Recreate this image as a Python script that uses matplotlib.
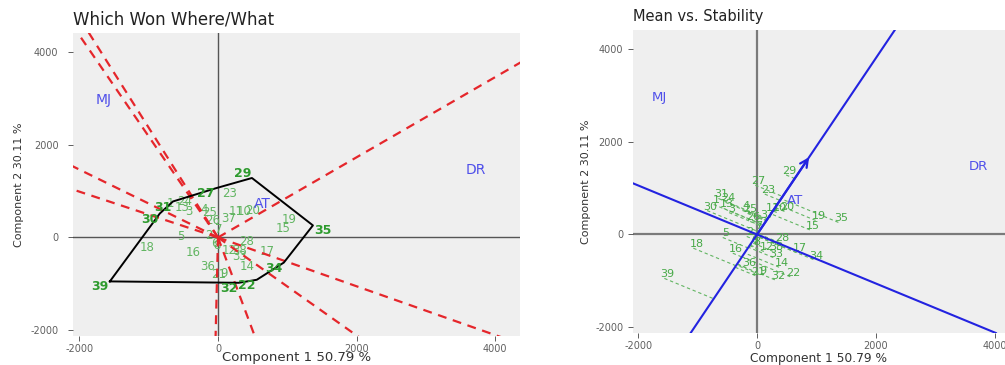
import numpy as np
import matplotlib
matplotlib.use('Agg')
import matplotlib.pyplot as plt

plt.rcParams['font.family'] = ['DejaVu Sans']
plt.rcParams['axes.unicode_minus'] = False

# genotype scores (component 1, component 2)
geno = [str(i) for i in range(1, 40)]
comp1 = [-730, -173, -470, -245, -577, -87, -29, -58, 43, 332,
         216, 115, -560, 372, 890, -408, 664, -1072, 986, 462,
         -29, 560, 130, -530, -159, -115, -30, 375, 490, -840,
         -650, 300, 274, 950, 1370, -188, 115, 274, -1560]
comp2 = [645, -43, 470, 517, -65, -216, 86, -259, -862, 474,
         474, -366, 560, -705, 99, -403, -388, -295, 302, 496,
         -884, -910, 869, 690, 453, 280, 1060, -172, 1280, 515,
         775, -975, -496, -540, 260, -711, 323, -366, -945]

# environment scores
env = ['MJ', 'AT', 'DR']
env1 = [-1650, 640, 3720]
env2 = [2950, 730, 1460]

g = np.column_stack([comp1, comp2]).astype(float)
e = np.column_stack([env1, env2]).astype(float)

green = '#62b562'
dgreen = '#2e9b2e'
eblue = '#5050ea'
lblue = '#2323e0'
ylim = (-2120, 4400)


def convex_hull(pts):
    order = sorted(range(len(pts)), key=lambda i: (pts[i][0], pts[i][1]))

    def cross(o, a, b):
        return (pts[a][0] - pts[o][0]) * (pts[b][1] - pts[o][1]) - (pts[a][1] - pts[o][1]) * (pts[b][0] - pts[o][0])
    lower = []
    for i in order:
        while len(lower) >= 2 and cross(lower[-2], lower[-1], i) <= 0:
            lower.pop()
        lower.append(i)
    upper = []
    for i in reversed(order):
        while len(upper) >= 2 and cross(upper[-2], upper[-1], i) <= 0:
            upper.pop()
        upper.append(i)
    return lower[:-1] + upper[:-1]


def style_axes(ax, xl, xsize, ypad):
    ax.set_facecolor('#efefef')
    ax.set_xlim(*xl)
    ax.set_ylim(*ylim)
    for s in ax.spines.values():
        s.set_visible(False)
    ax.set_xticks([-2000, 0, 2000, 4000])
    ax.set_yticks([-2000, 0, 2000, 4000])
    ax.tick_params(labelsize=7, labelcolor='#606060', color='#444444', length=3.5, width=0.6)
    ax.tick_params(axis='x', pad=2)
    ax.tick_params(axis='y', pad=ypad)
    ax.set_xlabel('Component 1 50.79 %', fontsize=xsize, color='#333333')
    ax.set_ylabel('Component 2 30.11 %', fontsize=8, color='#333333')


fig = plt.figure(figsize=(10.05, 3.65), dpi=100)

# ---- Which won where/what
ax1 = fig.add_axes([73 / 1005, 29 / 365, 447 / 1005, 303 / 365])
style_axes(ax1, (-2092, 4358), 9.5, 7)
ax1.xaxis.set_label_coords(0.5, -0.048)
ax1.yaxis.set_label_coords(-0.11, 0.5)
ax1.axhline(0, color='#555555', lw=1, zorder=1)
ax1.axvline(0, color='#555555', lw=1, zorder=1)

hull = convex_hull(g)
for k in range(len(hull)):
    a = g[hull[k]]
    b = g[hull[(k + 1) % len(hull)]]
    d = b - a
    foot = a - (a @ d) / (d @ d) * d
    u = foot / np.linalg.norm(foot)
    ax1.plot([0, u[0] * 20000], [0, u[1] * 20000], color='#e5262b', lw=1.6,
             ls=(0, (4, 3)), zorder=4)

hx = [g[i][0] for i in hull] + [g[hull[0]][0]]
hy = [g[i][1] for i in hull] + [g[hull[0]][1]]
ax1.plot(hx, hy, color='black', lw=1.4, zorder=5)

for i, lab in enumerate(geno):
    if i in hull:
        dx = 7 if g[i][0] > 1000 else -7
        dy = 3 if g[i][1] > 1200 else -4
        ax1.annotate(lab, (g[i][0], g[i][1]), xytext=(dx, dy), textcoords='offset points',
                     ha='center', va='center', fontsize=9, fontweight='bold', color=dgreen, zorder=6)
    else:
        ax1.annotate(lab, (g[i][0], g[i][1]), xytext=(2.2, 2.9), textcoords='offset points',
                     ha='center', va='center', fontsize=8.5, color=green, zorder=3)
for i, lab in enumerate(env):
    ax1.text(e[i][0], e[i][1], lab, ha='center', va='center', fontsize=10, color=eblue, zorder=6)

fig.text(73 / 1005, 1 - 20 / 365, 'Which Won Where/What', fontsize=12, color='#222222', va='center')

# ---- Mean vs. stability
ax2 = fig.add_axes([633 / 1005, 32 / 365, 372 / 1005, 303 / 365])
style_axes(ax2, (-2088, 4175), 8.8, 3.5)
ax2.xaxis.set_label_coords(0.5, -0.063)
ax2.yaxis.set_label_coords(-0.114, 0.5)
ax2.axhline(0, color='#7a7a7a', lw=1.6, zorder=1)
ax2.axvline(0, color='#7a7a7a', lw=1.6, zorder=1)

m = e.mean(axis=0)
ax2.axline((0, 0), (m[0], m[1]), color=lblue, lw=1.5, zorder=4)
ax2.axline((0, 0), (m[1], -m[0]), color=lblue, lw=1.5, zorder=4)
ax2.annotate('', xy=(m[0], m[1]), xytext=(0, 0),
             arrowprops=dict(arrowstyle='->', color=lblue, lw=1.6, mutation_scale=14), zorder=5)

for i, lab in enumerate(geno):
    p = g[i]
    f = (p @ m) / (m @ m) * m
    ax2.plot([p[0], f[0]], [p[1], f[1]], color=green, lw=0.8, ls=(0, (3, 2.5)), zorder=2)
    ax2.annotate(lab, (p[0], p[1]), xytext=(2.2, 2.9), textcoords='offset points',
                 ha='center', va='center', fontsize=8, color='#47a947', zorder=3)
for i, lab in enumerate(env):
    ax2.text(e[i][0], e[i][1], lab, ha='center', va='center', fontsize=9.5, color=eblue, zorder=6)

fig.text(633 / 1005, 1 - 17 / 365, 'Mean vs. Stability', fontsize=10.5, color='#222222', va='center')

fig.savefig('out.png', dpi=100)
